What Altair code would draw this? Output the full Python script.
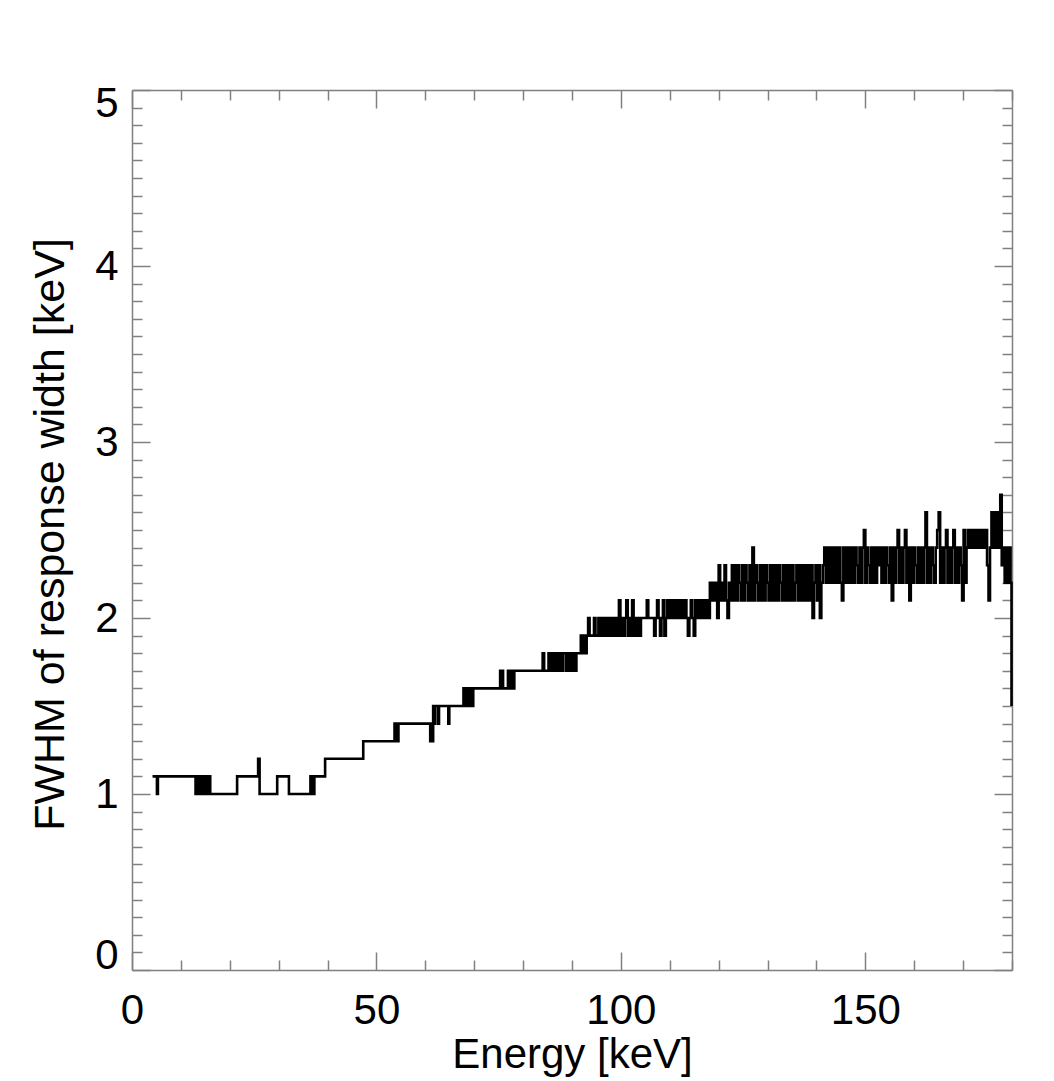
import altair as alt
import pandas as pd

# ---------------- data ----------------
# Low-energy part: step breakpoints (keV) and FWHM in units of 0.1 keV (step-after)
E_LOW = [4.2, 5.1, 5.3, 13.0, 13.2, 13.4, 13.6, 13.8, 14.0, 14.2, 14.7, 14.9,
         15.3, 15.5, 15.8, 16.0, 21.5, 25.8, 26.1, 29.7, 32.1, 36.5, 36.7, 36.9,
         37.1, 37.3, 39.5, 47.3, 53.7, 53.9, 54.1, 54.3, 54.5, 61.0, 61.2, 61.4,
         61.6, 61.8, 62.0, 62.6, 62.8, 64.7, 64.9, 67.8, 68.0, 68.3, 68.5, 68.8,
         69.0, 69.3, 69.5, 69.8, 75.3, 75.5, 75.7, 75.9, 76.9, 77.1, 77.3, 77.5,
         77.8, 78.0, 78.2]
W_LOW = [11, 10, 11, 10, 11, 10, 11, 10, 11, 10, 11, 10,
         11, 10, 11, 10, 11, 12, 10, 11, 10, 11, 10, 11,
         10, 11, 12, 13, 14, 13, 14, 13, 14, 13, 14, 13,
         15, 14, 15, 14, 15, 14, 15, 16, 15, 16, 15, 16,
         15, 16, 15, 16, 17, 16, 17, 16, 17, 16, 17, 16,
         17, 16, 17]

# High-energy part: channels every 0.3 keV from 84.0 keV, FWHM in 0.1 keV units
DENSE_START_KEV = 84.0
DENSE_STEP_KEV = 0.3
W_DENSE = [
    18, 17, 17, 17, 18, 17, 18, 17, 18, 17,   # 84.0
    18, 17, 18, 17, 18, 18, 17, 18, 17, 18,   # 87.0
    17, 18, 17, 18, 18, 18, 19, 18, 19, 18,   # 90.0
    19, 20, 19, 19, 19, 20, 19, 19, 20, 19,   # 93.0
    20, 19, 20, 19, 20, 19, 20, 19, 20, 19,   # 96.0
    20, 19, 21, 19, 20, 19, 20, 21, 19, 20,   # 99.0
    19, 21, 19, 20, 19, 20, 19, 20, 20, 20,   # 102.0
    20, 21, 20, 20, 20, 20, 19, 20, 21, 20,   # 105.0
    19, 20, 21, 19, 20, 21, 20, 21, 20, 21,   # 108.0
    20, 21, 20, 21, 20, 21, 20, 21, 20, 19,   # 111.0
    20, 21, 20, 19, 21, 20, 21, 20, 21, 20,   # 114.0
    21, 20, 21, 20, 22, 21, 22, 21, 22, 20,   # 117.0
    23, 21, 22, 21, 23, 21, 20, 22, 21, 23,   # 120.0
    21, 23, 21, 23, 22, 21, 23, 21, 23, 22,   # 123.0
    21, 23, 21, 24, 21, 23, 22, 21, 23, 21,   # 126.0
    23, 21, 23, 22, 21, 23, 21, 23, 21, 23,   # 129.0
    21, 23, 22, 21, 23, 21, 23, 21, 23, 21,   # 132.0
    23, 21, 22, 23, 21, 23, 21, 23, 21, 23,   # 135.0
    21, 23, 21, 23, 20, 22, 23, 21, 23, 20,   # 138.0
    22, 23, 24, 22, 24, 22, 24, 22, 24, 22,   # 141.0
    24, 22, 24, 22, 21, 24, 22, 24, 22, 24,   # 144.0
    22, 24, 22, 24, 23, 22, 24, 22, 24, 25,   # 147.0
    22, 24, 23, 22, 24, 22, 24, 22, 24, 23,   # 150.0
    24, 22, 24, 22, 24, 23, 22, 24, 21, 24,   # 153.0
    22, 24, 25, 22, 24, 22, 24, 25, 22, 24,   # 156.0
    21, 24, 22, 24, 23, 22, 24, 22, 24, 22,   # 159.0
    24, 26, 22, 24, 22, 24, 23, 22, 24, 25,   # 162.0
    26, 22, 24, 22, 24, 25, 22, 24, 22, 24,   # 165.0
    25, 22, 24, 22, 24, 23, 21, 25, 22, 24,   # 168.0
    25, 24, 25, 24, 25, 24, 25, 24, 25, 24,   # 171.0
    25, 24, 25, 23, 21, 24, 26, 24, 26, 24,   # 174.0
    26, 24, 27, 23, 24, 22, 24, 22, 24, 22,   # 177.0
]
E_END = 179.9
W_END = 15

X_TICKS = [0, 10, 20, 30, 40, 50, 60, 70, 80, 90, 100, 110, 120, 130, 140,
           150, 160, 170, 180]
X_LABELS = [0, 50, 100, 150]
Y_TICKS = [0.0, 0.1, 0.2, 0.3, 0.4, 0.5, 0.6, 0.7, 0.8, 0.9,
           1.0, 1.1, 1.2, 1.3, 1.4, 1.5, 1.6, 1.7, 1.8, 1.9,
           2.0, 2.1, 2.2, 2.3, 2.4, 2.5, 2.6, 2.7, 2.8, 2.9,
           3.0, 3.1, 3.2, 3.3, 3.4, 3.5, 3.6, 3.7, 3.8, 3.9,
           4.0, 4.1, 4.2, 4.3, 4.4, 4.5, 4.6, 4.7, 4.8, 4.9, 5.0]
Y_LABELS = [0, 1, 2, 3, 4, 5]

energy = (E_LOW
          + [round(DENSE_START_KEV + DENSE_STEP_KEV * i, 2) for i in range(len(W_DENSE))]
          + [E_END])
fwhm = [w / 10 for w in (W_LOW + W_DENSE + [W_END])]
df = pd.DataFrame({"energy": energy, "fwhm": fwhm, "order": list(range(len(energy)))})

# ---------------- chart ----------------
W, H = 880, 880
AX = "#808080"
FONT = "Liberation Sans"
FS = 42

xscale = alt.Scale(domain=[0, 180], nice=False, zero=False)
yscale = alt.Scale(domain=[0, 5], nice=False, zero=False)

tick_x = {"condition": {"test": "datum.value % 50 === 0", "value": 18}, "value": 10}
tick_y = {"condition": {"test": "datum.value % 1 === 0", "value": 18}, "value": 10}

base = alt.Chart(df)

main = base.mark_line(interpolate="step-after", color="black", strokeWidth=2.6).encode(
    x=alt.X("energy:Q", scale=xscale,
            axis=alt.Axis(orient="bottom", values=X_LABELS, ticks=False, tickSize=0,
                          grid=False, domain=True, domainColor=AX, domainWidth=1.5,
                          labelFont=FONT, labelFontSize=FS, labelColor="black",
                          labelPadding=20, labelFlush=False,
                          title="Energy [keV]", titleFont=FONT,
                          titleFontSize=FS, titleFontWeight="normal", titleColor="black",
                          titleX=W / 2, titleY=97, titleBaseline="alphabetic")),
    y=alt.Y("fwhm:Q", scale=yscale,
            axis=alt.Axis(orient="left", values=Y_LABELS, ticks=False, tickSize=0,
                          grid=False, domain=True, domainColor=AX, domainWidth=1.5,
                          labelFont=FONT, labelFontSize=FS, labelColor="black",
                          labelPadding=14, labelFlush=True, labelFlushOffset=7,
                          title="FWHM of response width [keV]", titleFont=FONT,
                          titleFontSize=43, titleFontWeight="normal", titleColor="black",
                          titleX=-69, titleY=H / 2 + 4, titleAngle=270,
                          titleBaseline="alphabetic")),
    order="order:Q",
)

# ticks on top edge (pointing down) and right edge (pointing left)
ticks_tr = base.mark_line(opacity=0).encode(
    x=alt.X("energy:Q", scale=xscale,
            axis=alt.Axis(orient="bottom", offset=-H, values=X_TICKS, labels=False,
                          ticks=True, tickSize=tick_x, tickColor=AX, tickWidth=1.5,
                          domain=True, domainColor=AX, domainWidth=1.5, grid=False,
                          title="")),
    y=alt.Y("fwhm:Q", scale=yscale,
            axis=alt.Axis(orient="left", offset=-W, values=Y_TICKS, labels=False,
                          ticks=True, tickSize=tick_y, tickColor=AX, tickWidth=1.5,
                          domain=True, domainColor=AX, domainWidth=1.5, grid=False,
                          title="")),
    order="order:Q",
)

# ticks on bottom edge (pointing up) and left edge (pointing right)
ticks_bl = base.mark_line(opacity=0).encode(
    x=alt.X("energy:Q", scale=xscale,
            axis=alt.Axis(orient="top", offset=-H, values=X_TICKS, labels=False,
                          ticks=True, tickSize=tick_x, tickColor=AX, tickWidth=1.5,
                          domain=False, grid=False, title="")),
    y=alt.Y("fwhm:Q", scale=yscale,
            axis=alt.Axis(orient="right", offset=-W, values=Y_TICKS, labels=False,
                          ticks=True, tickSize=tick_y, tickColor=AX, tickWidth=1.5,
                          domain=False, grid=False, title="")),
    order="order:Q",
)

chart = (
    alt.layer(ticks_bl, ticks_tr, main)
    .resolve_axis(x="independent", y="independent")
    .properties(width=W, height=H, background="white",
                autosize=alt.AutoSizeParams(type="none"),
                padding={"left": 132, "top": 90, "right": 42, "bottom": 111})
    .configure_view(strokeWidth=0)
)

chart.save("out.html", embed_options={"renderer": "svg", "actions": False})
